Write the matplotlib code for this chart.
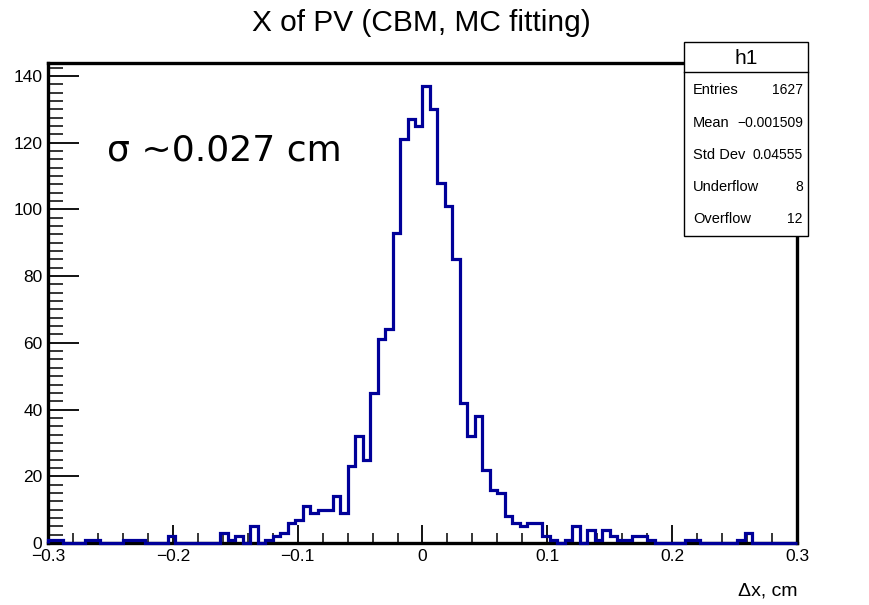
import numpy as np
import matplotlib
matplotlib.use("Agg")
import matplotlib.pyplot as plt
from matplotlib.patches import Rectangle
from matplotlib.lines import Line2D
from matplotlib.ticker import MultipleLocator

# ---- data ----
x_min, x_max, n_bins = -0.3, 0.3, 100
counts = [
    1, 1, 0, 0, 0, 1, 1, 0, 0, 0,
    1, 1, 1, 0, 0, 0, 2, 0, 0, 0,
    0, 0, 0, 3, 1, 2, 0, 5, 0, 1,
    2, 3, 6, 7, 11, 9, 10, 10, 14, 9,
    23, 32, 25, 45, 61, 64, 93, 121, 127, 125,
    137, 130, 108, 101, 85, 42, 32, 38, 22, 16,
    15, 8, 6, 5, 6, 6, 2, 1, 0, 1,
    5, 0, 4, 1, 4, 2, 1, 1, 2, 2,
    1, 0, 0, 0, 0, 1, 1, 0, 0, 0,
    0, 0, 1, 3, 0, 0, 0, 0, 0, 0,
]
stat_names = ["Entries", "Mean", "Std Dev", "Underflow", "Overflow"]
stat_values = ["1627", "\u22120.001509", "0.04555", "8", "12"]
title = "X of PV (CBM, MC fitting)"
hist_name = "h1"
xlabel = "\u0394x, cm"
note = "\u03c3 ~0.027 cm"

W, H = 869, 605
def fx(p): return p / W
def fy(p): return 1 - p / H

plt.rcParams['font.family'] = ['Liberation Sans', 'DejaVu Sans']

fig = plt.figure(figsize=(W / 100, H / 100), dpi=100)
ax = fig.add_axes([fx(48), fy(543), (797 - 48) / W, (543 - 63) / H])

edges = np.linspace(x_min, x_max, n_bins + 1)
ax.stairs(counts, edges, color='#000099', linewidth=2.3, zorder=3, clip_on=False)

ax.set_xlim(x_min, x_max)
ax.set_ylim(0, max(counts) * 1.05)

ax.xaxis.set_major_locator(MultipleLocator(0.1))
ax.xaxis.set_minor_locator(MultipleLocator(0.02))
ax.yaxis.set_major_locator(MultipleLocator(20))
ax.yaxis.set_minor_locator(MultipleLocator(2.5))
ax.tick_params(axis='x', which='major', direction='in', length=13, width=1.3, labelsize=12.5, pad=4, top=False)
ax.tick_params(axis='x', which='minor', direction='in', length=7, width=1.1, top=False)
ax.tick_params(axis='y', which='major', direction='in', length=22, width=1.3, labelsize=12.5, pad=4, right=False)
ax.tick_params(axis='y', which='minor', direction='in', length=11, width=1.1, right=False)
ax.xaxis.set_major_formatter(matplotlib.ticker.FuncFormatter(
    lambda v, p: ("%g" % round(v, 3)).replace('-', '\u2212')))
for s in ax.spines.values():
    s.set_linewidth(2.4)
    s.set_color('black')

fig.text(fx(421), fy(23), title, ha='center', va='center', fontsize=21.5)
fig.text(fx(797), fy(591), xlabel, ha='right', va='center', fontsize=14)
fig.text(fx(107), fy(150), note, ha='left', va='center', fontsize=26, family='DejaVu Sans')

# stats box
bx0, bx1, by0, by1, bhead = 684, 808, 42, 236, 72
fig.patches.append(Rectangle((fx(bx0), fy(by1)), (bx1 - bx0) / W, (by1 - by0) / H,
                             transform=fig.transFigure, facecolor='white',
                             edgecolor='black', linewidth=1.0, zorder=5))
fig.lines.append(Line2D([fx(bx0), fx(bx1)], [fy(bhead), fy(bhead)],
                        transform=fig.transFigure, color='black', linewidth=1.0, zorder=6))
fig.text(fx((bx0 + bx1) / 2), fy(58), hist_name, ha='center', va='center', fontsize=15, zorder=7)
row_y = [90, 123, 155, 187, 219]
for name, val, yy in zip(stat_names, stat_values, row_y):
    fig.text(fx(693), fy(yy), name, ha='left', va='center', fontsize=10.5, zorder=7)
    fig.text(fx(bx1 - 5), fy(yy), val, ha='right', va='center', fontsize=10, zorder=7)

fig.savefig("out.png", dpi=100)
